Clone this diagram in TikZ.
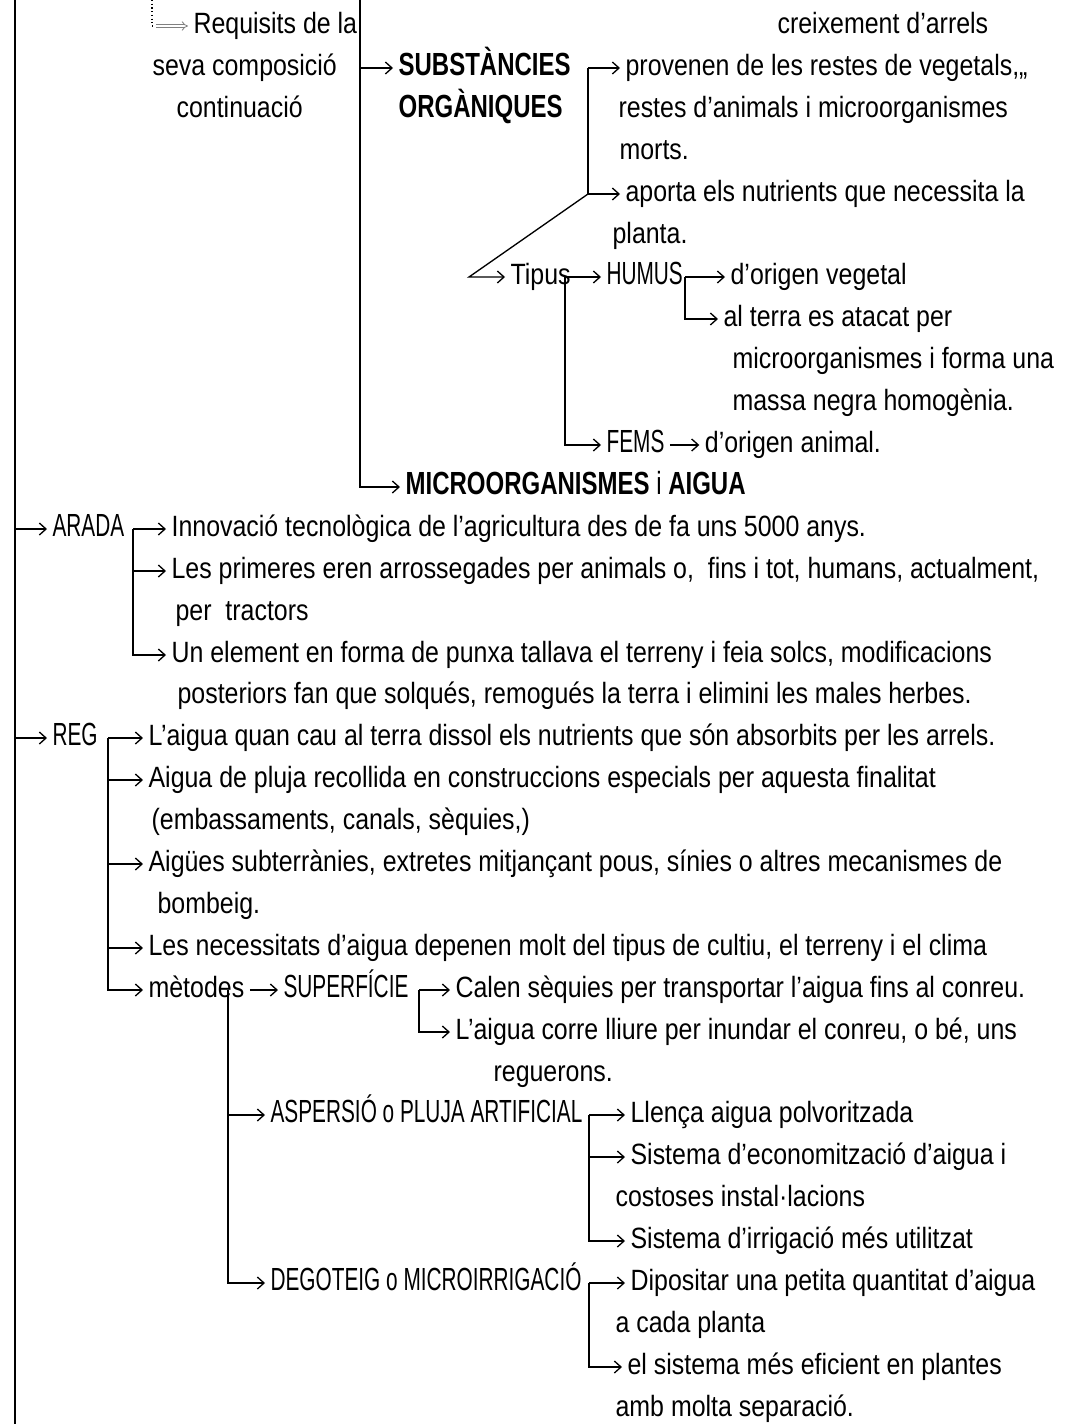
\documentclass[tikz,border=0pt]{standalone}
\usepackage{fontspec}
\setmainfont[FakeStretch=0.85]{Liberation Sans}
\newfontfamily\capsfont[FakeStretch=0.65]{Liberation Sans}
\newfontfamily\headfont[FakeStretch=0.75]{Liberation Sans}
\usetikzlibrary{arrows.meta,positioning}

\begin{document}
\begin{tikzpicture}[x=0.75pt, y=-0.75pt,
    txt/.style={anchor=west, inner xsep=4pt, inner ysep=0pt, text height=16pt, text depth=5pt,
      font=\fontsize{22}{26}\selectfont},
    bold txt/.style={txt, font=\fontsize{24}{28}\headfont\bfseries},
    caps txt/.style={txt, font=\fontsize{24}{28}\capsfont},
    stem/.style={line width=1pt},
    arr/.style={line width=1pt, -{Straight Barb[length=5pt,width=9pt]}}]

  \useasboundingbox (0,0) rectangle (1076,1424);

  % upper block
  \node[txt] (req) at (188,26) {Requisits de la};
  \node[txt] (seva) at (147,68) {seva composició};
  \node[txt] (cont) at (171,110) {continuació};
  \node[txt] (creix) at (772,26) {creixement d’arrels};
  \node[bold txt] (subst) at (393,68) {SUBSTÀNCIES};
  \node[bold txt] (organ) at (393,110) {ORGÀNIQUES};
  \node[txt] (prov) at (620,68) {provenen de les restes de vegetals,„};
  \node[txt] (rest) at (613,110) {restes d’animals i microorganismes};
  \node[txt] (morts) at (614,152) {morts.};
  \node[txt] (aporta) at (620,194) {aporta els nutrients que necessita la};
  \node[txt] (planta) at (607,236) {planta.};
  \node[txt] (tipus) at (505,277) {Tipus};
  \node[caps txt] (humus) at (601,277) {HUMUS};
  \node[txt] (vege) at (725,277) {d’origen vegetal};
  \node[txt] (terra) at (718,319) {al terra es atacat per};
  \node[txt] (forma) at (727,361) {microorganismes i forma una};
  \node[txt] (massa) at (727,403) {massa negra homogènia.};
  \node[caps txt] (fems) at (601,445) {FEMS};
  \node[txt, right=22pt of fems] (anim) {d’origen animal.};
  \node[bold txt] (micro) at (400,487) {MICROORGANISMES {\mdseries i} AIGUA};

  % ARADA
  \node[caps txt] (arada) at (47,529) {ARADA};
  \node[txt] (inno) at (166,529) {Innovació tecnològica de l’agricultura des de fa uns 5000 anys.};
  \node[txt] (prim) at (166,571) {Les primeres eren arrossegades per animals o,~ fins i tot, humans, actualment,};
  \node[txt] (tract) at (170,613) {per~ tractors};
  \node[txt] (elem) at (166,655) {Un element en forma de punxa tallava el terreny i feia solcs, modificacions};
  \node[txt] (poste) at (172,696) {posteriors fan que solqués, remogués la terra i elimini les males herbes.};

  % REG
  \node[caps txt] (reg) at (47,738) {REG};
  \node[txt] (laig) at (143,738) {L’aigua quan cau al terra dissol els nutrients que són absorbits per les arrels.};
  \node[txt] (pluja) at (143,780) {Aigua de pluja recollida en construccions especials per aquesta finalitat};
  \node[txt] (emba) at (146,822) {(embassaments, canals, sèquies,)};
  \node[txt] (subt) at (143,864) {Aigües subterrànies, extretes mitjançant pous, sínies o altres mecanismes de};
  \node[txt] (bomb) at (152,906) {bombeig.};
  \node[txt] (neces) at (143,948) {Les necessitats d’aigua depenen molt del tipus de cultiu, el terreny i el clima};
  \node[txt] (meto) at (143,990) {mètodes};
  \node[caps txt] (sup) at (278,990) {SUPERFÍCIE};
  \node[txt] (calen) at (450,990) {Calen sèquies per transportar l’aigua fins al conreu.};
  \node[txt] (corre) at (450,1032) {L’aigua corre lliure per inundar el conreu, o bé, uns};
  \node[txt] (regu) at (488,1074) {reguerons.};
  \node[caps txt] (asp) at (265,1115) {ASPERSIÓ o PLUJA ARTIFICIAL};
  \node[txt] (llen) at (625,1115) {Llença aigua polvoritzada};
  \node[txt] (siste) at (625,1157) {Sistema d’economització d’aigua i};
  \node[txt] (cost) at (610,1199) {costoses instal·lacions};
  \node[txt] (irri) at (625,1241) {Sistema d’irrigació més utilitzat};
  \node[caps txt] (dego) at (265,1283) {DEGOTEIG o MICROIRRIGACIÓ};
  \node[txt] (dipo) at (625,1283) {Dipositar una petita quantitat d’aigua};
  \node[txt] (cada) at (610,1325) {a cada planta};
  \node[txt] (efic) at (622,1367) {el sistema més eficient en plantes};
  \node[txt] (amb) at (610,1409) {amb molta separació.};

  % trunks and forks
  \coordinate (top) at (15,0);
  \coordinate (bottom) at (15,1424);
  \coordinate (midtop) at (360,0);
  \coordinate (dtop) at (152,0);
  \coordinate (dturn) at (156,26);
  \coordinate (orgtop) at (588,68);
  \coordinate (orgbot) at (588,194);
  \coordinate (orgtip) at (469,277);
  \coordinate (tipfork) at (565,277);
  \coordinate (humfork) at (685,277);
  \coordinate (aradafork) at (133,529);
  \coordinate (regfork) at (108,738);
  \coordinate (metofork) at (228,990);
  \coordinate (supfork) at (419,990);
  \coordinate (aspfork) at (589,1115);
  \coordinate (degofork) at (589,1283);

  \draw[dotted, line width=0.8pt] (dtop) |- (dturn);
  \draw[gray, line width=0.6pt, double, double distance=1.8pt, -{Implies}] (dturn) -- (req.west);

  \draw[stem] (top) -- (bottom);
  \draw[arr] (top |- arada.west) -- (arada.west);
  \draw[arr] (top |- reg.west) -- (reg.west);

  \draw[arr] (midtop) |- (micro.west);
  \draw[arr] (midtop |- subst.west) -- (subst.west);

  \draw[arr] (orgtop) -- (prov.west);
  \draw[arr] (orgtop) -- (orgbot) -- (aporta.west);
  \draw[arr] (orgbot) -- (orgtip) -- (tipus.west);

  \draw[arr] (tipfork) -- (humus.west);
  \draw[arr] (tipfork) |- (fems.west);
  \draw[arr] (humfork) -- (vege.west);
  \draw[arr] (humfork) |- (terra.west);
  \draw[arr] (fems.east) -- (anim.west);

  \draw[arr] (aradafork) -- (inno.west);
  \draw[arr] (aradafork) |- (prim.west);
  \draw[arr] (aradafork) |- (elem.west);

  \draw[arr] (regfork) -- (laig.west);
  \draw[arr] (regfork) |- (pluja.west);
  \draw[arr] (regfork) |- (subt.west);
  \draw[arr] (regfork) |- (neces.west);
  \draw[arr] (regfork) |- (meto.west);

  \draw[arr] (meto.east) -- (sup.west);
  \draw[arr] (metofork) |- (asp.west);
  \draw[arr] (metofork) |- (dego.west);

  \draw[arr] (supfork) -- (calen.west);
  \draw[arr] (supfork) |- (corre.west);

  \draw[arr] (aspfork) -- (llen.west);
  \draw[arr] (aspfork) |- (siste.west);
  \draw[arr] (aspfork) |- (irri.west);

  \draw[arr] (degofork) -- (dipo.west);
  \draw[arr] (degofork) |- (efic.west);
\end{tikzpicture}
\end{document}
